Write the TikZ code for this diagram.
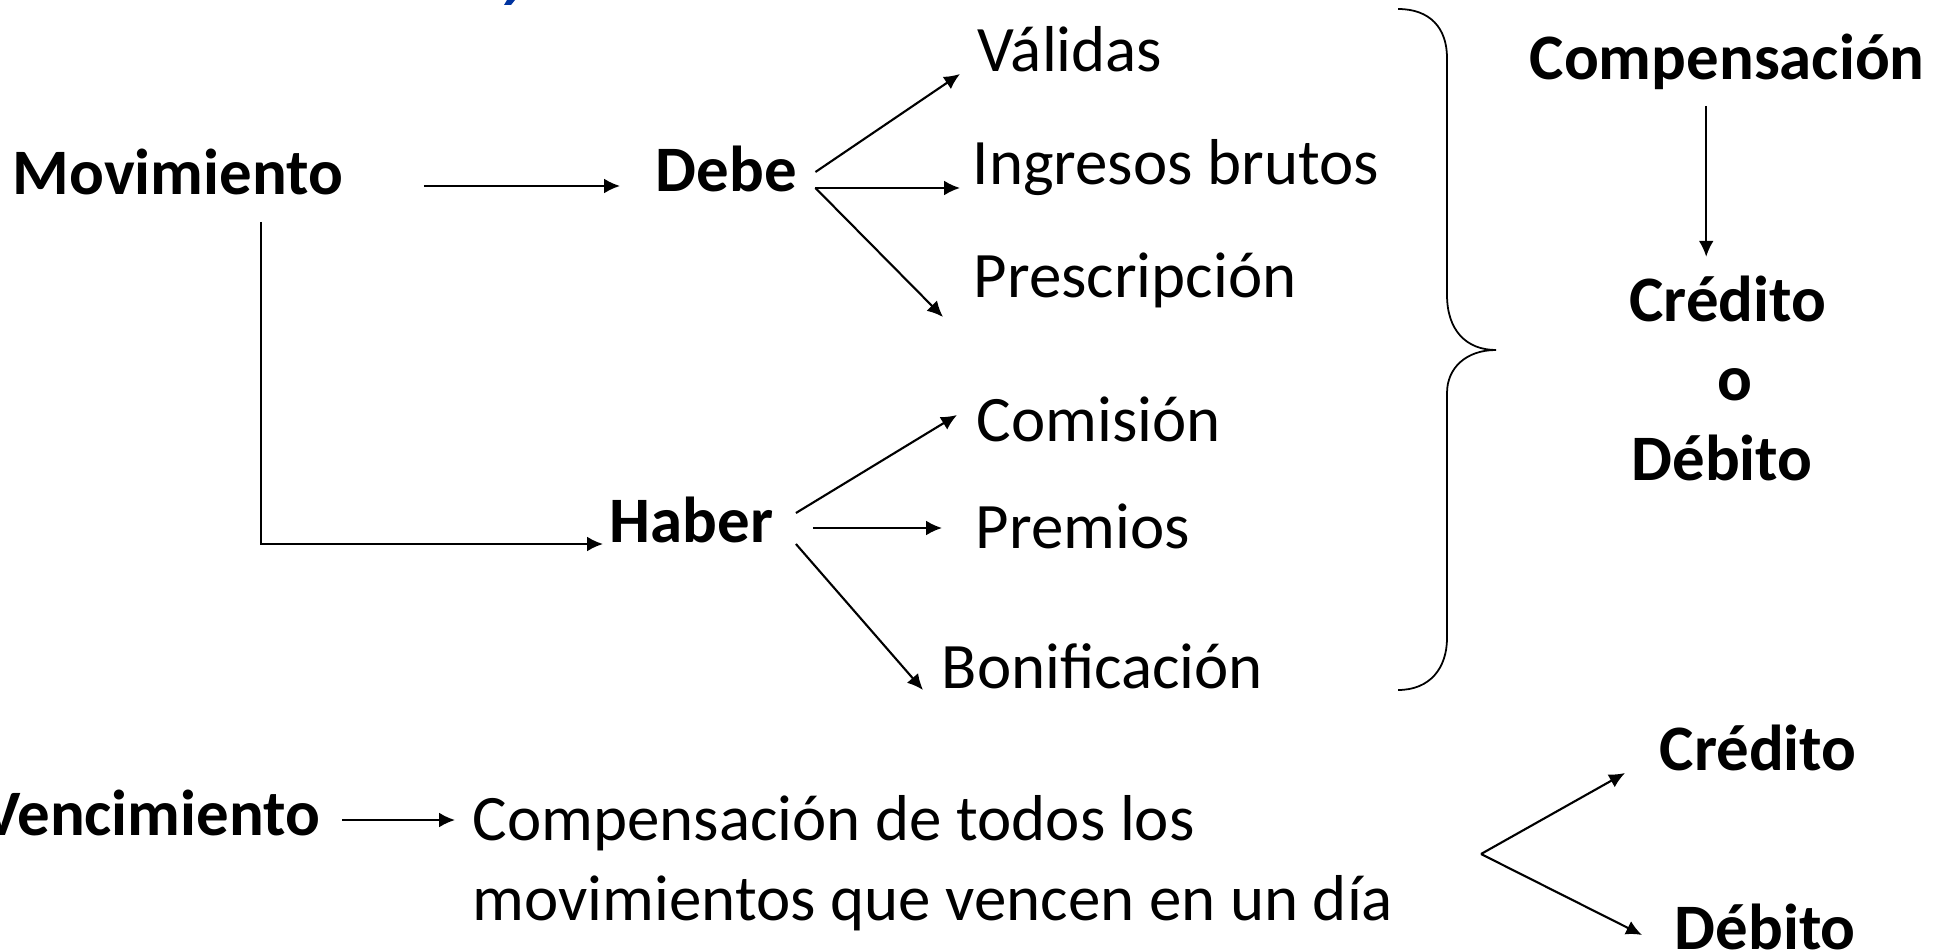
\documentclass[tikz,border=0pt]{standalone}
\usepackage{fontspec}
\setmainfont{Carlito}
\usetikzlibrary{arrows.meta}
\definecolor{titleblue}{RGB}{0,51,160}

\begin{document}
\begin{tikzpicture}[x=0.01cm,y=-0.01cm,>={Latex[length=4.5pt,width=4.2pt]},
    txt/.style={inner sep=0pt,font=\fontsize{18.45pt}{22.7pt}\selectfont},
    bld/.style={inner sep=0pt,font=\fontsize{18.45pt}{22.7pt}\selectfont\bfseries},
    conn/.style={line width=0.6pt}]

\useasboundingbox (0,0) rectangle (1946,952);

% bit of the cut-off heading
\fill[titleblue] (507,0) -- (515,0) -- (511,5) -- (504,5) -- cycle;

    \path
    (12,195)   node[bld,anchor=base west] (mov) {Movimiento}
    (655,192)  node[bld,anchor=base west] (debe) {Debe}
    (609,542)  node[bld,anchor=base west] (hab) {Haber};

    \path
    (977,72)   node[txt,anchor=base west] (val) {Válidas}
    (972,185)  node[txt,anchor=base west] (ing) {Ingresos brutos}
    (973,298)  node[txt,anchor=base west] (pre) {Prescripción}
    (976,441)  node[txt,anchor=base west] (com) {Comisión}
    (975,548)  node[txt,anchor=base west] (prem) {Premios}
    (941,688)  node[txt,anchor=base west] (bon) {Bonificación};

    \path
    (1529,80)  node[bld,anchor=base west] (comp) {Compensación}
    (1728,322) node[bld,anchor=base] (cred) {Crédito}
    (1735,400) node[bld,anchor=base] (o) {o}
    (1722,480) node[bld,anchor=base] (deb) {Débito};

    \path
    (321,835)  node[bld,anchor=base east] (venc) {Vencimiento}
    (472,920)  node[txt,anchor=base west,align=left] (todos) {Compensación de todos los\\movimientos que vencen en un día}
    (1659,770) node[bld,anchor=base west] (credb) {Crédito}
    (1674,949) node[bld,anchor=base west] (debb) {Débito};

\coordinate (fork) at (1481,854);

% Movimiento
\draw[conn,->] ([shift={(80,-9)}]mov.base east) -- ([shift={(-35,-6)}]debe.base west);
\draw[conn,->] ([shift={(83,27)}]mov.base) |- ([shift={(-6,2)}]hab.base west);

% Debe
\draw[conn,->] ([shift={(18,-20)}]debe.base east) -- ([shift={(-17,2)}]val.base west);
\draw[conn,->] ([shift={(18,-4)}]debe.base east) -- ([shift={(-12,3)}]ing.base west);
\draw[conn,->] ([shift={(18,-4)}]debe.base east) -- ([shift={(-30,19)}]pre.base west);

% Haber
\draw[conn,->] ([shift={(22,-29)}]hab.base east) -- ([shift={(-19,-26)}]com.base west);
\draw[conn,->] ([shift={(39,-14)}]hab.base east) -- ([shift={(-33,-20)}]prem.base west);
\draw[conn,->] ([shift={(22,2)}]hab.base east) -- ([shift={(-18,2)}]bon.base west);

% llave
\draw[line width=0.5pt] (1398,9) .. controls (1430,9) and (1447,28) .. (1447,58) -- (1447,295)
    .. controls (1447,330) and (1466,350) .. (1496,350)
    .. controls (1466,350) and (1447,368) .. (1447,393) -- (1447,638)
    .. controls (1447,668) and (1430,690) .. (1398,690);

\coordinate (ca) at ([shift={(-21,26)}]comp.base);
\coordinate (cb) at ([shift={(0,-19)}]cred.north);
\draw[conn,->] (ca) -- (ca |- cb);

% Vencimiento
\draw[conn,->] ([shift={(21,-15)}]venc.base east) -- ([shift={(-17,-100)}]todos.base west);
\draw[conn,->] (fork) -- ([shift={(-34,3)}]credb.base west);
\draw[conn,->] (fork) -- ([shift={(-32,-14)}]debb.base west);

\end{tikzpicture}
\end{document}
